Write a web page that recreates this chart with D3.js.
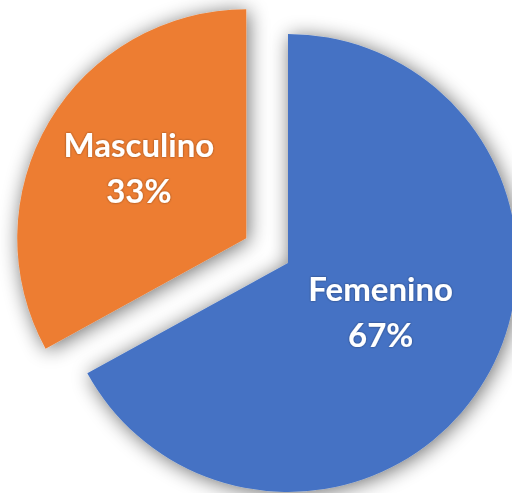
<!DOCTYPE html>
<html>
<head>
<meta charset="utf-8">
<script src="https://cdn.jsdelivr.net/npm/d3@7"></script>
<style>
    body { margin: 0; background: #fff; }
    svg { display: block; }
</style>
</head>
<body>
<div id="chart"></div>
<script>
// data
const categories = ["Femenino", "Masculino"];
const values = [67, 33];
const colors = ["#4472C4", "#ED7D31"];

const width = 512, height = 493;
const cx = 288, cy = 263, radius = 229;
const explodeDist = 48.5;
const explodedSlices = new Set(["Masculino"]);
const labelFrac = {Femenino: 0.455, Masculino: 0.56};
const labelNudge = {Femenino: [3, -4], Masculino: [3, -5]};

let svg = d3.select("#chart")
    .append("svg")
    .attr("width", width)
    .attr("height", height);

let defs = svg.append("defs");

// soft outer shadow like the Excel style
let shadow = defs.append("filter")
    .attr("id", "shadow")
    .attr("x", "-30%").attr("y", "-30%")
    .attr("width", "160%").attr("height", "160%");
shadow.append("feGaussianBlur")
    .attr("in", "SourceAlpha")
    .attr("stdDeviation", 10)
    .attr("result", "blur");
shadow.append("feOffset")
    .attr("in", "blur")
    .attr("dx", 2).attr("dy", 2)
    .attr("result", "off");
shadow.append("feComponentTransfer")
    .attr("in", "off")
    .attr("result", "faded")
    .append("feFuncA").attr("type", "linear").attr("slope", 0.58);
let merge = shadow.append("feMerge");
merge.append("feMergeNode").attr("in", "faded");
merge.append("feMergeNode").attr("in", "SourceGraphic");

// faint dark halo round the white label text
let glow = defs.append("filter").attr("id", "glow")
    .attr("x", "-20%").attr("y", "-20%")
    .attr("width", "140%").attr("height", "140%");
glow.append("feDropShadow")
    .attr("dx", 0).attr("dy", 0)
    .attr("stdDeviation", 1)
    .attr("flood-color", "#000")
    .attr("flood-opacity", 0.45);

const data = categories.map((c, i) => ({name: c, value: values[i], color: colors[i]}));

const pie = d3.pie()
    .sort(null)
    .value(d => d.value);

const arc = d3.arc()
    .innerRadius(0)
    .outerRadius(radius);

const arcs = pie(data);

let slices = svg.append("g")
    .attr("transform", `translate(${cx},${cy})`)
    .selectAll("g.slice")
    .data(arcs)
    .join("g")
    .attr("class", "slice")
    .attr("transform", d => {
        if (!explodedSlices.has(d.data.name)) return null;
        const mid = (d.startAngle + d.endAngle) / 2;
        return `translate(${Math.sin(mid) * explodeDist},${-Math.cos(mid) * explodeDist})`;
    });

slices.append("path")
    .attr("d", arc)
    .attr("fill", d => d.data.color)
    .attr("filter", "url(#shadow)");

let labels = slices.append("text")
    .attr("transform", d => {
        const r = radius * labelFrac[d.data.name];
        const c = d3.arc().innerRadius(r).outerRadius(r).centroid(d);
        const n = labelNudge[d.data.name];
        return `translate(${c[0] + n[0]},${c[1] + n[1]})`;
    })
    .attr("text-anchor", "middle")
    .attr("fill", "#fff")
    .style("font-family", "Lato, 'Open Sans', sans-serif")
    .style("font-weight", "bold")
    .style("font-size", "33px")
    .attr("filter", "url(#glow)");

labels.append("tspan")
    .attr("x", 0)
    .attr("y", -11.5)
    .text(d => d.data.name);

labels.append("tspan")
    .attr("x", 0)
    .attr("y", 34.5)
    .text(d => d3.format(".0%")(d.value / d3.sum(values)));
</script>
</body>
</html>
